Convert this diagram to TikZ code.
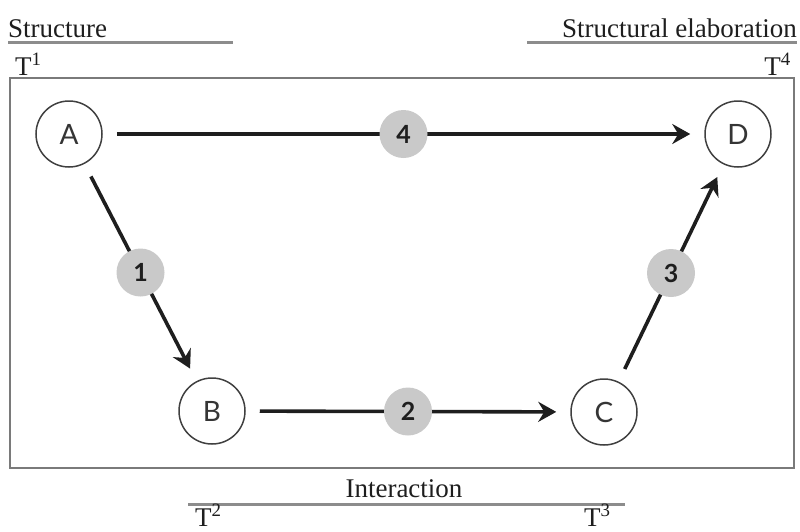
\documentclass[tikz,border=0pt]{standalone}
\usepackage{fontspec}
\setmainfont{Liberation Serif}
\newfontfamily\lettfont{Lato}
\usetikzlibrary{arrows.meta}
\definecolor{framegray}{HTML}{7A7A7A}
\definecolor{rulegray}{HTML}{8C8C8C}
\definecolor{numgray}{HTML}{C9C9C9}
\definecolor{inkdark}{HTML}{1E1E1E}
\tikzset{
  letter/.style={circle, draw=inkdark!85, line width=1.5pt, fill=white,
    minimum size=66pt, inner sep=0pt, font=\lettfont\fontsize{28}{28}\selectfont, text=inkdark!90},
  numlabel/.style={circle, fill=numgray, minimum size=48pt, inner sep=0pt,
    font=\lettfont\bfseries\fontsize{25}{25}\selectfont, text=inkdark},
  flow/.style={draw=inkdark, line width=3.6pt,
    -{Stealth[length=18pt,width=20pt,inset=6pt]}, shorten <=14pt, shorten >=14pt},
  headtext/.style={font=\fontsize{27}{27}\selectfont, text=inkdark, inner sep=0pt},
  headrule/.style={draw=rulegray, line width=3pt},
  framebox/.style={draw=framegray, line width=2.8pt}
}
\begin{document}
\begin{tikzpicture}[x=1pt,y=-1pt]
  \useasboundingbox (0,0) rectangle (800,531);
  % frame
  \draw[framebox] (10,78) rectangle (794,468);
  % header rules
  \coordinate (s1) at (8,42); \coordinate (s2) at (233,42);
  \coordinate (e1) at (527,42); \coordinate (e2) at (797,42);
  \coordinate (i1) at (188,504); \coordinate (i2) at (625,504);
  \draw[headrule] (s1) -- (s2);
  \draw[headrule] (e1) -- (e2);
  \draw[headrule] (i1) -- (i2);
  % header texts
  \node[headtext, anchor=base west] (tstruct) at (8,37) {Structure};
  \node[headtext, anchor=base east] (telab) at (797,37) {Structural elaboration};
  \node[headtext, anchor=base] (tinter) at (404,497) {Interaction};
  \node[headtext, anchor=base west] (t1) at (15,75) {T\textsuperscript{1}};
  \node[headtext, anchor=base east] (t4) at (791,75) {T\textsuperscript{4}};
  \node[headtext, anchor=base west] (t2) at (195,526) {T\textsuperscript{2}};
  \node[headtext, anchor=base west] (t3) at (584,526) {T\textsuperscript{3}};
  % nodes
  \node[letter] (A) at (69,134) {A};
  \node[letter] (D) at (738,134) {D};
  \node[letter] (B) at (212,411) {B};
  \node[letter] (C) at (604,412) {C};
  % connectors
  \draw[flow] (A) -- (D) node[numlabel, midway] (n4) {4};
  \draw[flow] (A) -- (B) node[numlabel, midway] (n1) {1};
  \draw[flow] (B) -- (C) node[numlabel, midway] (n2) {2};
  \draw[flow] (C) -- (D) node[numlabel, midway] (n3) {3};
\end{tikzpicture}
\end{document}
